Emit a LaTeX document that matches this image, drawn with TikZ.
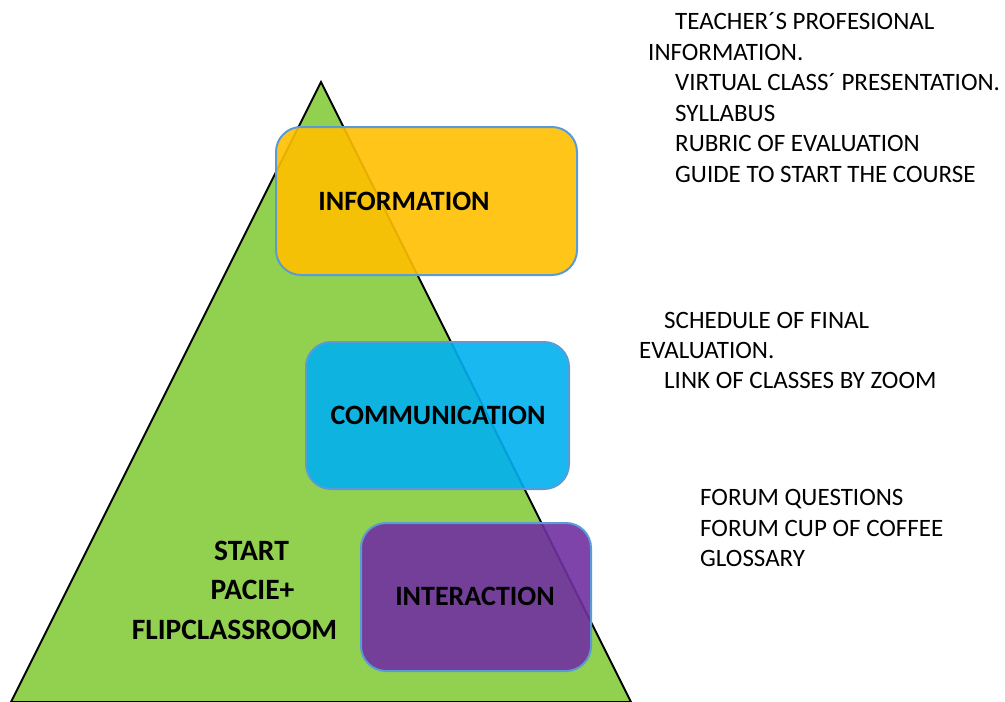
\documentclass[tikz,border=0pt]{standalone}
\usepackage{fontspec}
\setmainfont{Carlito}
\begin{document}
\begin{tikzpicture}[x=1pt,y=-1pt,
  box/.style={draw=boxline,line width=2pt,rounded corners=25pt,fill opacity=0.9,draw opacity=1,inner sep=0pt},
  lbl/.style={font=\fontsize{28}{34}\selectfont\bfseries,text=black,inner sep=0pt},
  startl/.style={font=\fontsize{29.5}{35}\selectfont\bfseries,text=black,inner sep=0pt},
  item/.style={font=\fontsize{25}{30}\selectfont,anchor=base west,inner sep=0pt,text=black}]
\definecolor{tri}{HTML}{92D050}
\definecolor{boxline}{HTML}{5B9BD5}
\definecolor{infoc}{HTML}{FFC000}
\definecolor{commc}{HTML}{00B0F0}
\definecolor{interc}{HTML}{7030A0}
\useasboundingbox (0,0) rectangle (1005,702);
\begin{scope}
\clip (0,0) rectangle (1005,702);
\draw[fill=tri,line width=2pt,line join=miter] (321,82) -- (631,702) -- (11,702) -- cycle;
\end{scope}
\node[box,fill=infoc,minimum width=301pt,minimum height=148pt] (info) at (426.5,201) {};
\node[box,fill=commc,minimum width=263pt,minimum height=147pt] (comm) at (437.5,415.5) {};
\node[box,fill=interc,minimum width=230pt,minimum height=148pt] (inter) at (476,597) {};
\node[lbl] (infot) at (404,201) {INFORMATION};
\node[lbl] (commt) at (438,415) {COMMUNICATION};
\node[lbl] (intert) at (475,596) {INTERACTION};
\node[startl] (s1) at (251.5,551) {START};
\node[startl] (s2) at (252.5,590) {PACIE+};
\node[startl] (s3) at (234.5,630) {FLIPCLASSROOM};
\node[item] (a1) at (675,29) {TEACHER´S PROFESIONAL};
\node[item] (a2) at (648,60) {INFORMATION.};
\node[item] (a3) at (675,90) {VIRTUAL CLASS´ PRESENTATION.};
\node[item] (a4) at (675,121) {SYLLABUS};
\node[item] (a5) at (675,151) {RUBRIC OF EVALUATION};
\node[item] (a6) at (675,182) {GUIDE TO START THE COURSE};
\node[item] (b1) at (664,328) {SCHEDULE OF FINAL};
\node[item] (b2) at (639,358) {EVALUATION.};
\node[item] (b3) at (664,388) {LINK OF CLASSES BY ZOOM};
\node[item] (c1) at (700,505) {FORUM QUESTIONS};
\node[item] (c2) at (700,536) {FORUM CUP OF COFFEE};
\node[item] (c3) at (700,566) {GLOSSARY};
\end{tikzpicture}
\end{document}
